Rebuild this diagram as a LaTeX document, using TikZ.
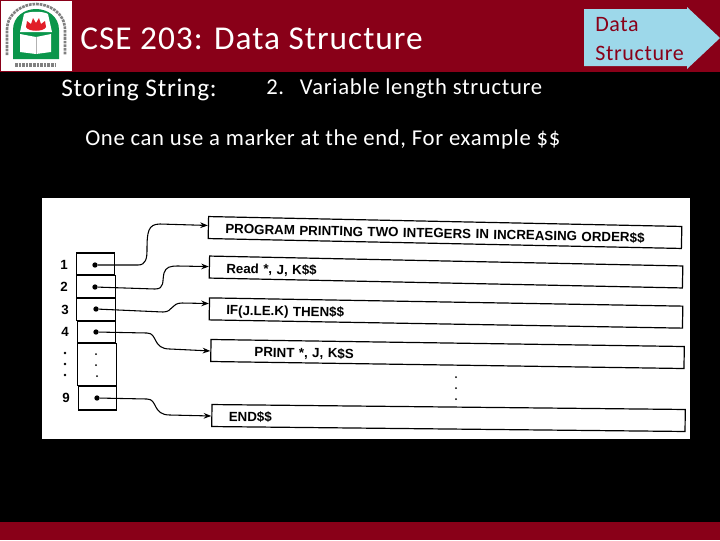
\documentclass[tikz,border=0pt]{standalone}
\usepackage{xcolor}
\usepackage{fontspec}
\setmainfont{Carlito}
\newfontfamily\printfont{Liberation Sans}
\usetikzlibrary{arrows.meta, positioning, calc}
\definecolor{bandred}{RGB}{137,0,24}
\definecolor{tagblue}{RGB}{157,216,234}
\definecolor{logogreen}{RGB}{10,150,75}
\definecolor{logored}{RGB}{225,30,40}

\begin{document}
\begin{tikzpicture}[x=0.75pt, y=-0.75pt,
  band/.style={fill=bandred, draw=none},
  slide/.style={font=\fontsize{#1}{#1}\selectfont\addfontfeature{LetterSpace=3}, text=white, anchor=west, inner sep=0pt},
  rec/.style={rectangle, draw=black, line width=0.9pt, fill=white, minimum width=355pt, minimum height=16.5pt,
              inner sep=0pt, text width=329.5pt, text height=9.5pt, text depth=1pt, align=left, text=black,
              font=\fontsize{10}{12}\printfont\bfseries},
  cell/.style={rectangle, draw=black, line width=0.9pt, minimum width=29pt, minimum height=#1, inner sep=0pt},
  ptr/.style={circle, fill=black, inner sep=0pt, minimum size=4pt},
  speck/.style={circle, fill=black, inner sep=0pt, minimum size=1.5pt},
  idx/.style={font=\fontsize{10}{12}\printfont\bfseries, text=black, inner sep=0pt},
  arr/.style={-{Stealth[length=2mm]}, line width=0.8pt, black},
]
  \useasboundingbox (0,0) rectangle (720,540);
  \fill[black] (0,0) rectangle (720,540);
  \fill[band] (0,0) rectangle (720,72);
  \fill[band] (0,522) rectangle (720,540);

  % logo
  \fill[white] (1,1) rectangle (72,71);
  \draw[gray, line width=2pt, dash pattern=on 2pt off 0.7pt] (7,55) -- (7,30) .. controls (7,12) and (24,4) .. (36,4) .. controls (48,4) and (65,12) .. (65,30) -- (65,55);
  \draw[gray, line width=2.5pt, dash pattern=on 2pt off 0.7pt] (15,65) -- (56,65);
  \fill[logogreen] (13,59) -- (13,30) .. controls (13,16) and (25,9) .. (36,9) .. controls (47,9) and (59,16) .. (59,30) -- (59,59) -- cycle;
  \fill[white] (24,14) .. controls (29,11) and (43,11) .. (48,14) -- (52,32) -- (20,32) -- cycle;
  \fill[logored] (27,21) -- (31,24) -- (33,18) -- (36,23) -- (39,18) -- (41,24) -- (45,21) -- (46,27) .. controls (44,32) and (28,32) .. (26,27) -- cycle;
  \fill[white] (20,34) -- (36,37) -- (51,34) -- (51,52) -- (36,54) -- (20,52) -- cycle;
  \draw[gray!60, line width=0.6pt] (36,37) -- (36,54);

  \node[slide=25] (title) at (80,39) {CSE 203: Data Structure};
  \node[slide=19] (topic) at (61,89.5) {Storing String:};
  \node[slide=17] (kind)  at (266,89) {2.\hspace{0.7em}Variable length structure};
  \node[slide=17] (note)  at (85,139.5) {One can use a marker at the end, For example \$\$};

  % tag
  \fill[tagblue] (584,9) -- (687,9) -- (687,7) -- (720,38) -- (687,69) -- (687,66) -- (584,66) -- cycle;
  \node[font=\fontsize{16.5}{21.5}\selectfont\addfontfeature{LetterSpace=3}, text=bandred, align=left, anchor=west, inner sep=0pt] (tag) at (595,39) {Data\\Structure};

  % scanned figure
  \fill[white] (42,198) rectangle (690,439);

  \node[cell=16.5pt] (c1) at (95.5,264) {};
  \node[cell=17pt]   (c2) at (96,286.5) {};
  \node[cell=17pt]   (c3) at (96,309.5) {};
  \node[cell=16.5pt] (c4) at (96.5,332) {};
  \node[cell=32pt]   (c5) at (97,364.5) {};
  \node[cell=18pt]   (c9) at (97.5,398) {};

  \node[ptr] (p1) at (95,265) {};
  \node[ptr] (p2) at (95,287) {};
  \node[ptr] (p3) at (96,309) {};
  \node[ptr] (p4) at (96,332) {};
  \node[ptr] (p9) at (97,398) {};
  \node[speck] (s1) at (96,354) {};
  \node[speck] (s2) at (96,365) {};
  \node[speck] (s3) at (97,376) {};

  \node[idx] (n1) at (64,265) {1};
  \node[idx] (n2) at (64,287) {2};
  \node[idx] (n3) at (65,310) {3};
  \node[idx] (n4) at (65,332) {4};
  \node[speck, minimum size=2.2pt] (n5) at (65,353) {};
  \node[speck, minimum size=2.2pt] (n6) at (65,364) {};
  \node[speck, minimum size=2.2pt] (n7) at (65,375) {};
  \node[idx] (n9) at (66,398) {9};

  \node[rec, rotate=-1.2]  (r1) at (445,232.5) {PROGRAM PRINTING TWO INTEGERS IN INCREASING ORDER\$\$};
  \node[rec, rotate=-1.2]  (r2) at (446,272)   {Read *, J, K\$\$};
  \node[rec, rotate=-1]    (r3) at (446,313)   {IF(J.LE.K) THEN\$\$};
  \node[rec, rotate=-0.85] (r4) at (447.5,354) {\hspace{20pt}PRINT *, J, K\$S};
  \node[rec, rotate=-0.6]  (r9) at (448.5,418) {END\$\$};

  \node[speck] (m1) at (456,377) {};
  \node[speck] (m2) at (456,388) {};
  \node[speck] (m3) at (456,399) {};

  \draw[arr] (p1) -- (138,265) .. controls (146,265) and (147,258) .. (147,250) .. controls (147,232) and (148,224) .. (160,224) -- ($(r1.north west)!0.41!(r1.south west)$);
  \draw[arr] (p2) -- (155,289) .. controls (165,289) and (162,281) .. (164,273) .. controls (166,267) and (170,266) .. (178,266) -- ($(r2.north west)!0.48!(r2.south west)$);
  \draw[arr] (p3) -- (163,312) .. controls (173,312) and (171,303) .. (182,303) -- ($(r3.north west)!0.27!(r3.south west)$);
  \draw[arr] (p4) -- (147,333) .. controls (158,333) and (152,349) .. (170,349) -- ($(r4.north west)!0.52!(r4.south west)$);
  \draw[arr] (p9) -- (147,399) .. controls (158,399) and (152,415) .. (170,415) -- ($(r9.north west)!0.52!(r9.south west)$);
\end{tikzpicture}
\end{document}
